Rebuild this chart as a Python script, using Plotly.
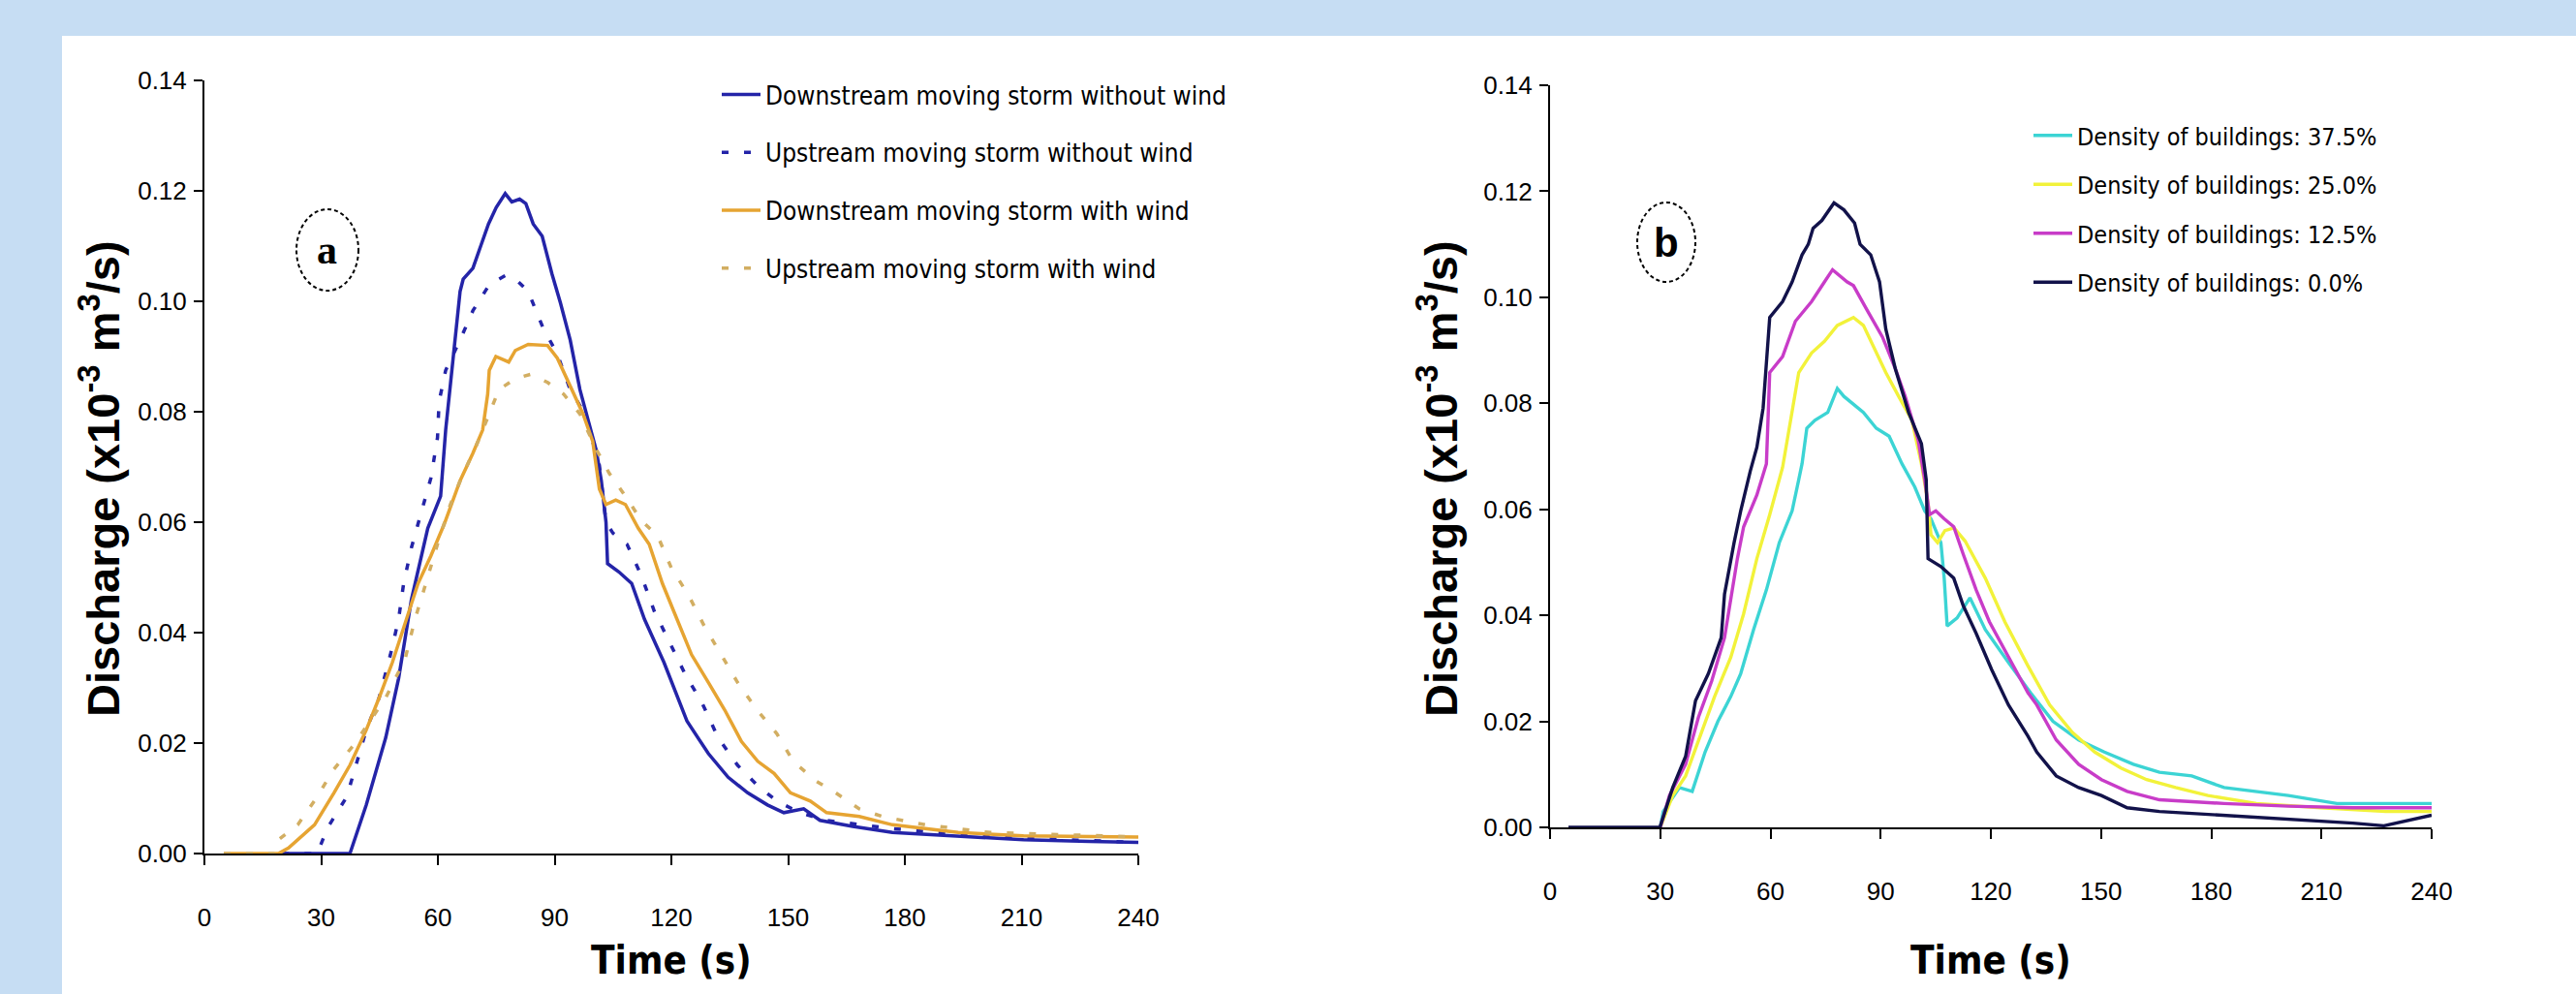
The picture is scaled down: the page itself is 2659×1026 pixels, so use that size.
import plotly.graph_objects as go

# ---------------- data ----------------
time_ticks = [0, 30, 60, 90, 120, 150, 180, 210, 240]
q_ticks = [0.00, 0.02, 0.04, 0.06, 0.08, 0.10, 0.12, 0.14]

# panel (a)
dsnw_t = [20, 37.4, 41.6, 46.6, 49.9, 53.2, 57.4, 60.7, 62, 64.5, 65.7, 66.5, 69, 71, 73, 75, 77.3, 79, 81, 82.6,
          84.5, 86.8, 89.3, 91.5, 94, 96.5, 100.7, 102, 103.2, 103.6, 106.5, 109.8, 113.1, 118.1, 124, 129.5, 134.6,
          139.6, 144.7, 148.9, 154, 158.2, 166.6, 176.8, 193.7, 210.5, 227.4, 240]
dsnw_q = [0, 0, 0.0088, 0.021, 0.0317, 0.046, 0.0589, 0.0647, 0.0767, 0.094, 0.1018, 0.104, 0.106, 0.110, 0.114,
          0.117, 0.1195, 0.118, 0.1185, 0.1177, 0.114, 0.1118, 0.105, 0.0997, 0.093, 0.084, 0.073, 0.0675, 0.060,
          0.0525, 0.051, 0.0489, 0.0424, 0.0346, 0.024, 0.0181, 0.0138, 0.011, 0.0088, 0.0074, 0.0081, 0.006,
          0.0049, 0.0038, 0.0032, 0.0025, 0.0022, 0.002]

usnw_t = [20, 29, 31.6, 36.6, 41.6, 44.9, 47.8, 49.9, 51.2, 53.2, 55.7, 58.2, 59.9, 60.3, 62, 65.7, 69, 73.2, 77.4,
          80, 83.2, 86.9, 90.7, 94, 97.8, 101.5, 103.2, 105, 108.6, 112.3, 115.6, 119.6, 123.6, 127.8, 132, 137,
          142, 147.1, 153, 159.8, 168.3, 176.8, 193.7, 210.5, 240]
usnw_q = [0, 0, 0.0046, 0.0103, 0.0224, 0.0282, 0.036, 0.0424, 0.0489, 0.0554, 0.0617, 0.068, 0.0753, 0.0818,
          0.0875, 0.093, 0.0983, 0.103, 0.1047, 0.104, 0.1018, 0.0954, 0.0904, 0.084, 0.0796, 0.0703, 0.060,
          0.058, 0.056, 0.0503, 0.0439, 0.038, 0.0324, 0.0274, 0.021, 0.016, 0.0124, 0.0095, 0.0074, 0.006,
          0.0052, 0.0045, 0.0035, 0.0028, 0.002]

dsw_t = [5, 19, 21.6, 28.3, 33.3, 37.4, 41.6, 44.9, 48.3, 51.6, 54.9, 58.2, 61.6, 65.7, 69, 71.5, 72.8, 73.2, 74.9,
         78.2, 79.9, 83.2, 86.5, 88.2, 90.7, 94, 97.3, 99.8, 101.5, 103.2, 105.7, 108.2, 111.5, 114.3, 117.7, 121,
         125.2, 129.5, 133.7, 138, 142.2, 146.4, 150.6, 155.7, 159.9, 168.3, 176.8, 193.7, 210.5, 240]
dsw_q = [0, 0, 0.001, 0.0052, 0.011, 0.016, 0.0224, 0.0282, 0.0346, 0.0417, 0.0489, 0.0539, 0.0596, 0.0675, 0.0725,
         0.0767, 0.0832, 0.0875, 0.090, 0.089, 0.0911, 0.0922, 0.092, 0.092, 0.0897, 0.0846, 0.0796, 0.0746, 0.066,
         0.0632, 0.064, 0.0632, 0.0589, 0.056, 0.0489, 0.0432, 0.036, 0.031, 0.026, 0.0203, 0.0167, 0.0145, 0.011,
         0.0095, 0.0074, 0.0067, 0.0052, 0.0038, 0.0032, 0.003]

usw_t = [5, 18, 19, 24, 29, 33.3, 38.3, 42.4, 46.6, 51.6, 54.1, 56.6, 59.9, 63.2, 66.6, 69.9, 73.2, 75.7, 79.9, 84,
         88.2, 92.3, 96.5, 100.7, 104, 108.2, 112.3, 116.5, 120, 124.4, 128.6, 132.8, 137, 142, 147.1, 151.3,
         157.2, 162.2, 168.3, 174.2, 185.2, 202, 219, 240]
usw_q = [0, 0, 0.0025, 0.0052, 0.0103, 0.0153, 0.0196, 0.0238, 0.0282, 0.0353, 0.0424, 0.0482, 0.056, 0.0632,
         0.0689, 0.0739, 0.0796, 0.084, 0.086, 0.0868, 0.0853, 0.0832, 0.0796, 0.0732, 0.0689, 0.0647, 0.0603,
         0.0575, 0.0517, 0.0468, 0.041, 0.036, 0.031, 0.026, 0.0217, 0.0167, 0.0131, 0.011, 0.0081, 0.0067,
         0.0052, 0.0038, 0.0035, 0.003]

# panel (b)
d375_t = [30, 30.8, 35.2, 38.7, 42.2, 45.7, 49.2, 51.9, 55.4, 58.9, 62.4, 65.9, 67.7, 68.6, 69.9, 72.1, 75.6, 78.2,
          80, 82.6, 85.3, 88.8, 92.3, 95.8, 99.3, 102, 103.7, 106.4, 107.3, 108.1, 110.8, 114.3, 118.5, 124.6,
          130.8, 136.9, 143.9, 150.9, 158.8, 165.9, 174.7, 183.5, 192.3, 201, 214.2, 227.5, 240]
d375_q = [0, 0.003, 0.0075, 0.0068, 0.0142, 0.020, 0.0247, 0.029, 0.0373, 0.0448, 0.0537, 0.0597, 0.0656, 0.0686,
          0.0753, 0.0768, 0.0783, 0.0828, 0.0813, 0.0798, 0.0783, 0.0753, 0.0738, 0.0686, 0.0642, 0.0597, 0.0582,
          0.0537, 0.047, 0.038, 0.0395, 0.0433, 0.0373, 0.0313, 0.0254, 0.020, 0.0165, 0.0142, 0.0119, 0.0104,
          0.0097, 0.0075, 0.0068, 0.006, 0.0045, 0.0045, 0.0045]

d25_t = [30, 33.4, 36.9, 40.4, 44.8, 49.2, 52.7, 56.3, 59.8, 63.3, 65.9, 67.7, 71.2, 74.7, 78.2, 82.6, 85.3, 87.9,
         91.4, 94.9, 98.5, 101.1, 102.9, 103.7, 105.5, 107.5, 110, 113, 118.5, 123.8, 130, 136, 142.2, 148.3,
         155.4, 162.4, 170.3, 179.1, 192.3, 209.9, 227.5, 240]
d25_q = [0, 0.006, 0.0097, 0.0165, 0.0247, 0.0321, 0.0403, 0.0507, 0.059, 0.0679, 0.079, 0.0858, 0.0895, 0.0917,
         0.0947, 0.0962, 0.0947, 0.091, 0.0858, 0.0813, 0.0768, 0.0686, 0.0612, 0.0552, 0.0537, 0.056, 0.0565,
         0.054, 0.047, 0.0388, 0.0306, 0.0231, 0.0179, 0.0142, 0.0112, 0.009, 0.0075, 0.006, 0.0045, 0.0037,
         0.003, 0.003]

d125_t = [30, 32.5, 36.9, 40.4, 44, 47.5, 51, 52.7, 56.3, 58.9, 59.8, 63.3, 66.8, 71.2, 74.7, 76.9, 80.9, 82.6,
          86.2, 90.5, 94, 96.7, 100.2, 102, 103.3, 105, 107.3, 109.9, 112.5, 116, 119.6, 124.8, 130.1, 132.5,
          137.8, 143.9, 150.1, 157.1, 165.9, 183.5, 201, 218.6, 240]
d125_q = [0, 0.006, 0.0119, 0.0208, 0.0276, 0.0358, 0.0507, 0.0567, 0.0627, 0.0686, 0.0858, 0.0888, 0.0955, 0.0992,
          0.1029, 0.1052, 0.1029, 0.1022, 0.0977, 0.0925, 0.0865, 0.0813, 0.0731, 0.0656, 0.059, 0.0597, 0.0582,
          0.0567, 0.0515, 0.0448, 0.0388, 0.0321, 0.0254, 0.0231, 0.0165, 0.0119, 0.009, 0.0068, 0.0052, 0.0045,
          0.004, 0.0037, 0.0037]

d00_t = [5, 29.9, 33.4, 36.9, 39.6, 43.1, 46.6, 47.5, 50.1, 51.9, 54.5, 56.3, 58, 58.9, 59.8, 63.3, 65.9, 68.6,
         70.3, 71.6, 74, 77.3, 80, 82.9, 84.4, 87.3, 89.7, 91.4, 94, 97.6, 101.1, 102.4, 102.9, 106.4, 109.9,
         112.5, 116, 120.2, 124.8, 130.1, 132.5, 137.8, 143.9, 150.1, 157.1, 165.9, 183.5, 201, 218.6, 227, 240]
d00_q = [0, 0, 0.0075, 0.0134, 0.0239, 0.029, 0.0358, 0.044, 0.0537, 0.0597, 0.0672, 0.0717, 0.0791, 0.0888,
         0.0962, 0.0992, 0.1029, 0.108, 0.110, 0.113, 0.1145, 0.1178, 0.1165, 0.114, 0.110, 0.108, 0.1029, 0.094,
         0.0865, 0.0783, 0.0724, 0.0656, 0.0507, 0.0492, 0.047, 0.0418, 0.0366, 0.0298, 0.0231, 0.0172, 0.0142,
         0.0097, 0.0075, 0.006, 0.0037, 0.003, 0.0023, 0.0015, 0.0008, 0.0003, 0.0023]

# ---------------- figure ----------------
W, H = 2659, 1026
NARROW = "DejaVu Sans Condensed, Liberation Sans Narrow, Arial Narrow, Liberation Sans, sans-serif"
ARIAL = "Liberation Sans, Arial, sans-serif"
PAGE_BLUE = "#C6DDF3"

BLUE = "#2424A8"
ORANGE = "#E6A432"
TAN = "#D2AE62"


def px(x):
    return x / W


def py(y):
    return 1 - y / H


fig = go.Figure()

fig.add_trace(go.Scatter(x=dsnw_t, y=dsnw_q, mode="lines", name="Downstream moving storm without wind",
                         line=dict(color=BLUE, width=3.5), xaxis="x", yaxis="y", legend="legend",
                         legendgroup="a1"))
fig.add_trace(go.Scatter(x=usnw_t, y=usnw_q, mode="lines", name="Upstream moving storm without wind",
                         line=dict(color=BLUE, width=3.5, dash="7px,16px"), xaxis="x", yaxis="y",
                         legend="legend", legendgroup="a2"))
fig.add_trace(go.Scatter(x=dsw_t, y=dsw_q, mode="lines", name="Downstream moving storm with wind",
                         line=dict(color=ORANGE, width=3.5), xaxis="x", yaxis="y", legend="legend",
                         legendgroup="a3"))
fig.add_trace(go.Scatter(x=usw_t, y=usw_q, mode="lines", name="Upstream moving storm with wind",
                         line=dict(color=TAN, width=3.5, dash="7px,16px"), xaxis="x", yaxis="y",
                         legend="legend", legendgroup="a4"))

fig.add_trace(go.Scatter(x=d375_t, y=d375_q, mode="lines", name="Density of buildings: 37.5%",
                         line=dict(color="#3CD4D4", width=3.4), xaxis="x2", yaxis="y2", legend="legend2",
                         legendgroup="b1"))
fig.add_trace(go.Scatter(x=d25_t, y=d25_q, mode="lines", name="Density of buildings: 25.0%",
                         line=dict(color="#F2F23A", width=3.4), xaxis="x2", yaxis="y2", legend="legend2",
                         legendgroup="b2"))
fig.add_trace(go.Scatter(x=d125_t, y=d125_q, mode="lines", name="Density of buildings: 12.5%",
                         line=dict(color="#C83CC8", width=3.4), xaxis="x2", yaxis="y2", legend="legend2",
                         legendgroup="b3"))
fig.add_trace(go.Scatter(x=d00_t, y=d00_q, mode="lines", name="Density of buildings: 0.0%",
                         line=dict(color="#12124A", width=3.4), xaxis="x2", yaxis="y2", legend="legend2",
                         legendgroup="b4"))

tickfont = dict(family=ARIAL, size=26, color="black")
common_x = dict(range=[0, 240], tickvals=time_ticks, ticktext=[str(v) for v in time_ticks],
                showline=True, linecolor="black", linewidth=2, ticks="outside", ticklen=10, tickwidth=2,
                tickcolor="black", showgrid=False, zeroline=False, tickfont=tickfont, ticklabelstandoff=32,
                fixedrange=True, automargin=False)
common_y = dict(range=[0, 0.14], tickvals=q_ticks, ticktext=["%.2f" % v for v in q_ticks],
                showline=True, linecolor="black", linewidth=2, ticks="outside", ticklen=9, tickwidth=2,
                tickcolor="black", showgrid=False, zeroline=False, tickfont=tickfont, ticklabelstandoff=2,
                fixedrange=True, automargin=False)

fig.update_layout(
    width=W, height=H,
    autosize=False,
    margin=dict(l=0, r=0, t=0, b=0, pad=0, autoexpand=False),
    paper_bgcolor=PAGE_BLUE,
    plot_bgcolor="rgba(0,0,0,0)",
    showlegend=True,
    xaxis=dict(domain=[px(211), px(1175)], anchor="y", **common_x),
    yaxis=dict(domain=[py(881), py(83)], anchor="x", **common_y),
    xaxis2=dict(domain=[px(1600), px(2510)], anchor="y2", **common_x),
    yaxis2=dict(domain=[py(854), py(88)], anchor="x2", **common_y),
    legend=dict(x=px(740), y=py(74), xanchor="left", yanchor="top", bgcolor="rgba(0,0,0,0)",
                font=dict(family=NARROW, size=26, color="black"), tracegroupgap=23,
                itemwidth=40, traceorder="grouped"),
    legend2=dict(x=px(2094), y=py(117), xanchor="left", yanchor="top", bgcolor="rgba(0,0,0,0)",
                 font=dict(family=NARROW, size=25, color="black"), tracegroupgap=15,
                 itemwidth=40, traceorder="grouped"),
)

# white panel on the light-blue page
fig.add_shape(type="rect", xref="paper", yref="paper", x0=px(64), x1=1.0, y0=0, y1=py(37),
              fillcolor="white", line=dict(width=0), layer="below")

# dashed circles with panel letters
for cx, cy, rx, ry, letter, fam in [(338, 258, 32, 42, "a", "Liberation Serif, Times New Roman, serif"),
                                    (1720, 250, 30, 41, "b", ARIAL)]:
    fig.add_shape(type="circle", xref="paper", yref="paper", x0=px(cx - rx), x1=px(cx + rx),
                  y0=py(cy + ry), y1=py(cy - ry), line=dict(color="black", width=2, dash="4px,3px"))
    fig.add_annotation(x=px(cx), y=py(cy), xref="paper", yref="paper", text="<b>%s</b>" % letter,
                       showarrow=False, font=dict(family=fam, size=42, color="black"),
                       xanchor="center", yanchor="middle")

# axis titles
ytitle = "<b>Discharge (x10<sup>-3</sup> m<sup>3</sup>/s)</b>"
for x_c, y_c in [(103, 494), (1484, 494)]:
    fig.add_annotation(x=px(x_c), y=py(y_c), xref="paper", yref="paper", text=ytitle, textangle=-90,
                       showarrow=False, font=dict(family=ARIAL, size=47, color="black"),
                       xanchor="center", yanchor="middle")
for x_c in [693, 2055]:
    fig.add_annotation(x=px(x_c), y=py(991), xref="paper", yref="paper", text="<b>Time (s)</b>",
                       showarrow=False, font=dict(family=NARROW, size=40, color="black"),
                       xanchor="center", yanchor="middle")

fig.write_html("out.html", config={"displayModeBar": False},
               post_script="document.body.style.margin='0';document.body.style.background='%s';" % PAGE_BLUE)
